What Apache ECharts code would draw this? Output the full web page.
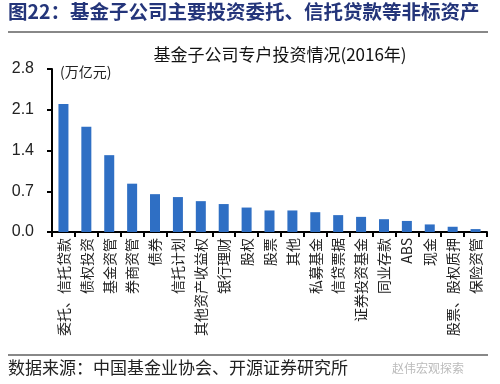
<!DOCTYPE html>
<html><head><meta charset="utf-8">
<script src="https://cdn.jsdelivr.net/npm/echarts@6/dist/echarts.min.js"></script>
<style>html,body{margin:0;padding:0;background:#fff}#c{width:500px;height:384px}</style>
</head><body><div id="c"></div>
<script>
const categories = ['委托、信托贷款','债权投资','基金资管','券商资管','债券','信托计划','其他资产收益权','银行理财','股权','股票','其他','私募基金','信贷票据','证券投资基金','同业存款','ABS','现金','股票、股权质押','保险资管'];
const values = [2.20,1.81,1.32,0.83,0.65,0.60,0.53,0.48,0.42,0.37,0.37,0.34,0.29,0.26,0.22,0.19,0.13,0.09,0.05];
const yTicks = [0, 0.7, 1.4, 2.1, 2.8];

const cjk = '"Noto Sans CJK SC", sans-serif';
const chart = echarts.init(document.getElementById('c'), null, {renderer:'canvas'});
chart.setOption({
  animation:false,
  backgroundColor:'#fff',
  title:{
    text:'基金子公司专户投资情况(2016年)',
    left:275, top:41, textAlign:'center',
    textStyle:{fontFamily:cjk, fontSize:17, fontWeight:'normal', color:'#111'}
  },
  grid:{left:52, right:13, top:69, bottom:152, containLabel:false},
  xAxis:{
    type:'category', data:categories,
    axisLine:{lineStyle:{color:'#000', width:2}},
    axisTick:{show:true, alignWithLabel:false, length:5, lineStyle:{color:'#000', width:2}},
    axisLabel:{rotate:90, interval:0, margin:6, fontFamily:cjk, fontSize:14, color:'#222'}
  },
  yAxis:{
    type:'value', min:0, max:2.8, interval:0.7,
    axisLine:{show:true, lineStyle:{color:'#000', width:2}},
    axisTick:{show:true, length:5, lineStyle:{color:'#000', width:2}},
    splitLine:{show:false},
    axisLabel:{margin:18, fontFamily:'"Liberation Sans", Arial, sans-serif', fontSize:16, color:'#222',
      formatter:function(v){return yTicks.indexOf(Math.round(v*10)/10)>=0 ? v.toFixed(1) : '';}}
  },
  series:[{type:'bar', data:values, barWidth:10, itemStyle:{color:'#2F6FC4'}}],
  graphic:[
    {type:'text', left:8, top:2, style:{text:'图22：基金子公司主要投资委托、信托贷款等非标资产', fontFamily:cjk, fontSize:19.5, fontWeight:'bold', fill:'#24357A'}},
    {type:'line', shape:{x1:8,y1:32,x2:488,y2:32}, style:{stroke:'#888', lineWidth:2}},
    {type:'text', left:60, top:65, style:{text:'(万亿元)', fontFamily:cjk, fontSize:14, fill:'#222'}},
    {type:'line', shape:{x1:8,y1:355,x2:488,y2:355}, style:{stroke:'#888', lineWidth:2}},
    {type:'text', left:8, top:359, style:{text:'数据来源：中国基金业协会、开源证券研究所', fontFamily:cjk, fontSize:17, fill:'#222'}},
    {type:'text', left:392, top:362, style:{text:'赵伟宏观探索', fontFamily:cjk, fontSize:12, fill:'#bbb'}}
  ]
});
</script></body></html>
